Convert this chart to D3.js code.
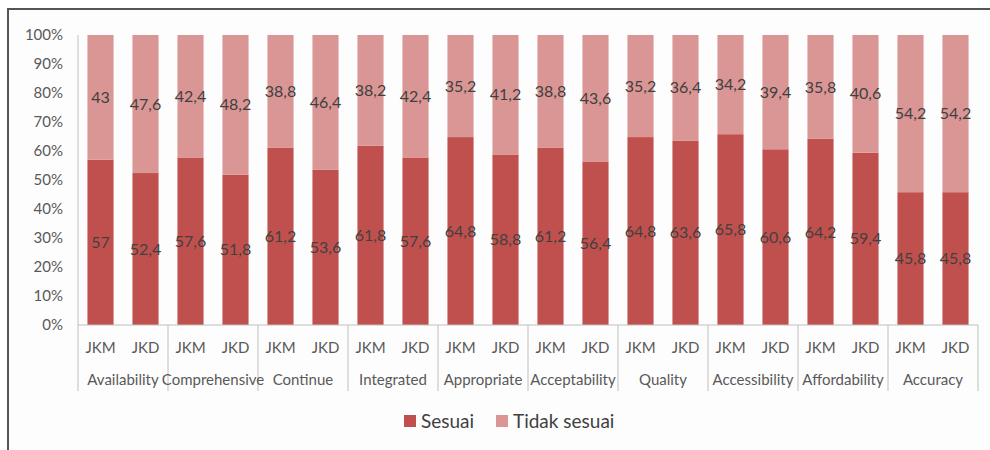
<!DOCTYPE html>
<html>
<head>
<meta charset="utf-8">
<script src="https://cdn.jsdelivr.net/npm/d3@7"></script>
<style>
  body { margin: 0; background: #fff; }
  svg { display: block; font-family: Lato, "Noto Sans", sans-serif; }
</style>
</head>
<body>
<svg width="990" height="450"></svg>
<script>
var categories = ["Availability", "Comprehensive", "Continue", "Integrated", "Appropriate",
  "Acceptability", "Quality", "Accessibility", "Affordability", "Accuracy"];
var groups = ["JKM", "JKD"];
// values per category: [JKM, JKD]
var sesuai = [[57, 52.4], [57.6, 51.8], [61.2, 53.6], [61.8, 57.6], [64.8, 58.8],
  [61.2, 56.4], [64.8, 63.6], [65.8, 60.6], [64.2, 59.4], [45.8, 45.8]];
var tidakSesuai = [[43, 47.6], [42.4, 48.2], [38.8, 46.4], [38.2, 42.4], [35.2, 41.2],
  [38.8, 43.6], [35.2, 36.4], [34.2, 39.4], [35.8, 40.6], [54.2, 54.2]];
var yTicks = [0, 10, 20, 30, 40, 50, 60, 70, 80, 90, 100];
var seriesNames = ["Sesuai", "Tidak sesuai"];
var colors = ["#c0504d", "#da9694"];

var svg = d3.select("svg");

// frame
svg.append("rect").attr("x", 8).attr("y", 9).attr("width", 1000).attr("height", 460)
  .attr("fill", "#fdfdfd").attr("stroke", "#555").attr("stroke-width", 2);

var pLeft = 78, pRight = 978, pTop = 35, pBottom = 325;

// flatten into bars
var bars = [];
categories.forEach(function(c, i) {
  groups.forEach(function(g, j) {
    bars.push({ key: c + "|" + g, cat: c, group: g, s: sesuai[i][j], t: tidakSesuai[i][j] });
  });
});

var x = d3.scaleBand().domain(bars.map(function(d) { return d.key; }))
  .range([pLeft, pRight]).paddingInner(0.42).paddingOuter(0.21);
var xCat = d3.scaleBand().domain(categories).range([pLeft, pRight]);
var y = d3.scaleLinear().domain([0, 100]).range([pBottom, pTop]);

// y axis labels
svg.append("g").selectAll("text").data(yTicks).enter().append("text")
  .attr("x", 63).attr("y", function(d) { return y(d); })
  .attr("dy", "0.35em").attr("text-anchor", "end")
  .attr("font-size", 15).attr("fill", "#595959")
  .text(function(d) { return d + "%"; });

svg.append("line").attr("x1", pLeft).attr("x2", pLeft).attr("y1", pTop).attr("y2", pBottom)
  .attr("stroke", "#bfbfbf");

// bars
var bg = svg.append("g");
bg.selectAll(".s").data(bars).enter().append("rect")
  .attr("x", function(d) { return x(d.key); }).attr("width", x.bandwidth())
  .attr("y", function(d) { return y(d.s); })
  .attr("height", function(d) { return y(0) - y(d.s); })
  .attr("fill", colors[0]);
bg.selectAll(".t").data(bars).enter().append("rect")
  .attr("x", function(d) { return x(d.key); }).attr("width", x.bandwidth())
  .attr("y", function(d) { return y(d.s + d.t); })
  .attr("height", function(d) { return y(d.s) - y(d.s + d.t); })
  .attr("fill", colors[1]);

var fmt = function(v) { return String(v).replace(".", ","); };
var lg = svg.append("g").attr("font-size", 16).attr("fill", "#404040").attr("text-anchor", "middle");
lg.selectAll(".ls").data(bars).enter().append("text")
  .attr("x", function(d) { return x(d.key) + x.bandwidth() / 2; })
  .attr("y", function(d) { return y(d.s / 2); }).attr("dy", "0.35em")
  .text(function(d) { return fmt(d.s); });
lg.selectAll(".lt").data(bars).enter().append("text")
  .attr("x", function(d) { return x(d.key) + x.bandwidth() / 2; })
  .attr("y", function(d) { return y(d.s + d.t / 2); }).attr("dy", "0.35em")
  .text(function(d) { return fmt(d.t); });

// x axis
svg.append("line").attr("x1", pLeft).attr("x2", pRight).attr("y1", pBottom).attr("y2", pBottom)
  .attr("stroke", "#bfbfbf");
var seps = categories.map(function(c) { return xCat(c); }).concat([pRight]);
svg.append("g").selectAll("line").data(seps).enter().append("line")
  .attr("x1", function(d) { return d; }).attr("x2", function(d) { return d; })
  .attr("y1", pBottom).attr("y2", 391).attr("stroke", "#bfbfbf");

svg.append("g").selectAll("text").data(bars).enter().append("text")
  .attr("x", function(d) { return x(d.key) + x.bandwidth() / 2; })
  .attr("y", 348).attr("dy", "0.35em").attr("text-anchor", "middle")
  .attr("font-size", 15).attr("fill", "#595959")
  .text(function(d) { return d.group; });

svg.append("g").selectAll("text").data(categories).enter().append("text")
  .attr("x", function(d) { return xCat(d) + xCat.bandwidth() / 2; })
  .attr("y", 380).attr("dy", "0.35em").attr("text-anchor", "middle")
  .attr("font-size", 15).attr("fill", "#595959")
  .text(function(d) { return d; });

// legend
var legX = [404, 496];
var leg = svg.append("g").selectAll("g").data(seriesNames).enter().append("g")
  .attr("transform", function(d, i) { return "translate(" + legX[i] + ",415)"; });
leg.append("rect").attr("width", 12).attr("height", 12)
  .attr("fill", function(d, i) { return colors[i]; });
leg.append("text").attr("x", 17).attr("y", 6).attr("dy", "0.35em")
  .attr("font-size", 19).attr("fill", "#404040")
  .text(function(d) { return d; });
</script>
</body>
</html>
